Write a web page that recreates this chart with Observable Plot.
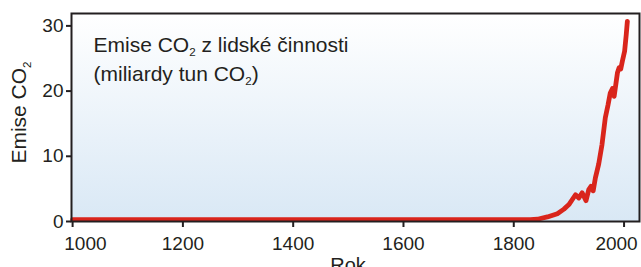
<!DOCTYPE html>
<html>
<head>
<meta charset="utf-8">
<script src="https://cdn.jsdelivr.net/npm/d3@7"></script>
<script src="https://cdn.jsdelivr.net/npm/@observablehq/plot@0.6"></script>
<style>
  html, body { margin: 0; padding: 0; background: #ffffff; }
  #chart svg { display: block; }
</style>
</head>
<body>
<div id="chart"></div>
<script>
const years = [1000, 1100, 1200, 1300, 1400, 1500, 1600, 1700, 1750, 1800, 1830, 1843, 1861, 1879, 1891, 1900, 1908, 1912, 1918, 1924, 1927, 1931, 1936, 1940, 1944, 1948, 1954, 1960, 1966, 1971, 1975, 1979, 1982, 1988, 1991, 1994, 1997, 2001, 2004, 2006];
const emissions = [0.3, 0.3, 0.3, 0.3, 0.3, 0.3, 0.3, 0.3, 0.3, 0.3, 0.3, 0.35, 0.7, 1.2, 1.9, 2.6, 3.6, 4.1, 3.6, 4.4, 3.9, 3.2, 4.9, 5.4, 4.7, 6.7, 8.8, 11.8, 15.9, 17.9, 19.7, 20.4, 19.2, 22.8, 23.6, 23.4, 24.6, 26.1, 28.7, 30.7];
const xTicks = [1000, 1200, 1400, 1600, 1800, 2000];
const yTicks = [0, 10, 20, 30];
const noteLines = ["Emise CO₂ z lidské činnosti", "(miliardy tun CO₂)"];
const yLabel = "Emise CO₂";
const xLabel = "Rok";

const data = years.map((year, i) => ({year, value: emissions[i]}));
const ink = "#231f20";

const plot = Plot.plot({
  width: 641,
  height: 267,
  marginLeft: 71,
  marginRight: 2,
  marginTop: 13,
  marginBottom: 46,
  style: {fontFamily: "'Liberation Sans', Arial, Helvetica, sans-serif", color: ink, background: "transparent", overflow: "visible"},
  x: {domain: [998, 2028]},
  y: {domain: [0, 31.9]},
  marks: [
    Plot.frame({fill: "url(#bgGrad)"}),
    Plot.line(data, {x: "year", y: "value", stroke: "#d9251c", strokeWidth: 4.8, strokeLinejoin: "round", strokeLinecap: "round"}),
    Plot.frame({stroke: ink, strokeWidth: 2}),
    Plot.axisY({ticks: yTicks, tickSize: 5, tickPadding: 3, fontSize: 19, label: null, strokeWidth: 2}),
    Plot.axisX({ticks: xTicks, tickSize: 6, text: null, label: null, strokeWidth: 2}),
    Plot.text(xTicks.slice(1, -1), {x: d => d, text: d => String(d), frameAnchor: "bottom", textAnchor: "middle", lineAnchor: "middle", dy: 22, fontSize: 19}),
    Plot.text(xTicks.slice(0, 1), {x: d => d, text: d => String(d), frameAnchor: "bottom", textAnchor: "middle", lineAnchor: "middle", dy: 22, dx: 12.8, fontSize: 19}),
    Plot.text(xTicks.slice(-1), {x: d => d, text: d => String(d), frameAnchor: "bottom", textAnchor: "middle", lineAnchor: "middle", dy: 22, dx: -7.5, fontSize: 19}),
    Plot.text([xLabel], {text: d => d, frameAnchor: "bottom", textAnchor: "middle", lineAnchor: "middle", dy: 44, dx: -7.5, fontSize: 20}),
    Plot.text([yLabel], {text: d => d, frameAnchor: "left", textAnchor: "middle", lineAnchor: "middle", dx: -52, dy: -5, rotate: -90, fontSize: 21}),
    Plot.text(noteLines.slice(0, 1), {text: d => d, frameAnchor: "top-left", textAnchor: "start", lineAnchor: "middle", dx: 22, dy: 31.3, fontSize: 21, letterSpacing: 0.7}),
    Plot.text(noteLines.slice(1, 2), {text: d => d, frameAnchor: "top-left", textAnchor: "start", lineAnchor: "middle", dx: 22, dy: 60.5, fontSize: 21, letterSpacing: 0.7})
  ]
});

// gradient background definition
const ns = "http://www.w3.org/2000/svg";
const defs = document.createElementNS(ns, "defs");
defs.innerHTML = '<linearGradient id="bgGrad" x1="0" y1="0" x2="0" y2="1"><stop offset="0" stop-color="#ffffff"/><stop offset="1" stop-color="#d9e8f5"/></linearGradient>';
plot.insertBefore(defs, plot.firstChild);

// subscripts
plot.querySelectorAll("text").forEach(t => {
  const s = t.textContent;
  if (!s.includes("₂")) return;
  const fs = 21;
  const parts = s.split("₂");
  t.textContent = "";
  parts.forEach((p, i) => {
    if (p) {
      const ts = document.createElementNS(ns, "tspan");
      ts.textContent = p;
      if (i > 0) ts.setAttribute("dy", (-0.22 * fs).toFixed(2));
      t.appendChild(ts);
    }
    if (i < parts.length - 1) {
      const sub = document.createElementNS(ns, "tspan");
      sub.textContent = "2";
      sub.setAttribute("font-size", (0.55 * fs).toFixed(1));
      sub.setAttribute("dy", (0.22 * fs).toFixed(2));
      t.appendChild(sub);
    }
  });
});

document.getElementById("chart").appendChild(plot);
</script>
</body>
</html>
